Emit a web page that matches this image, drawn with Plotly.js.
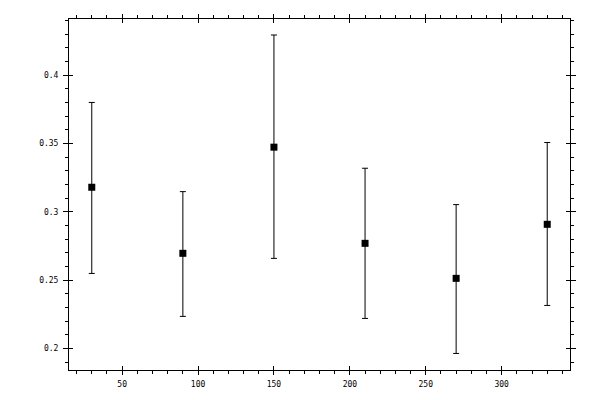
<!DOCTYPE html>
<html>
<head>
<meta charset="utf-8">
<script src="https://cdn.plot.ly/plotly-3.0.1.min.js"></script>
<style>html,body{margin:0;padding:0;background:#fff;}#chart{width:600px;height:400px;}</style>
</head>
<body>
<div id="chart"></div>
<script>
const xValues = [30, 90, 150, 210, 270, 330];
const yValues = [0.318, 0.2697, 0.3473, 0.2770, 0.2514, 0.2909];
const upperValues = [0.380, 0.3148, 0.4293, 0.3319, 0.3053, 0.3507];
const lowerValues = [0.255, 0.2236, 0.2660, 0.2221, 0.1965, 0.2316];

const errPlus = yValues.map((v, i) => upperValues[i] - v);
const errMinus = yValues.map((v, i) => v - lowerValues[i]);

const xRange = [15, 345];
const yRange = [0.1844, 0.441];

const tickFont = {family: 'DejaVu Sans Mono, monospace', size: 8, color: '#000'};

const traces = [
  {
    x: xValues, y: yValues, type: 'scatter', mode: 'markers',
    marker: {symbol: 'square', size: 7, color: '#000'},
    error_y: {type: 'data', symmetric: false, array: errPlus, arrayminus: errMinus,
              color: '#000', thickness: 1, width: 3},
    showlegend: false, hoverinfo: 'skip'
  },
  {
    x: [xRange[0]], y: [yRange[0]], xaxis: 'x2', yaxis: 'y2', type: 'scatter', mode: 'markers',
    marker: {size: 0.1, opacity: 0}, showlegend: false, hoverinfo: 'skip'
  }
];

const layout = {
  width: 600, height: 400,
  margin: {l: 69, r: 30, t: 19, b: 30},
  paper_bgcolor: '#fff', plot_bgcolor: '#fff',
  showlegend: false,
  font: tickFont,
  xaxis: {
    range: xRange, tick0: 0, dtick: 50, showgrid: false, zeroline: false,
    showline: true, linecolor: '#000', linewidth: 1, mirror: 'ticks',
    ticks: 'outside', ticklen: 4, tickwidth: 1, tickcolor: '#000',
    minor: {dtick: 10, tick0: 0, ticks: 'outside', ticklen: 3, tickwidth: 1, tickcolor: '#000', showgrid: false},
    tickfont: tickFont, ticklabelstandoff: 2
  },
  yaxis: {
    range: yRange, tick0: 0, dtick: 0.05, showgrid: false, zeroline: false,
    showline: true, linecolor: '#000', linewidth: 1, mirror: 'ticks',
    ticks: 'outside', ticklen: 5, tickwidth: 1, tickcolor: '#000',
    minor: {dtick: 0.01, tick0: 0, ticks: 'outside', ticklen: 3, tickwidth: 1, tickcolor: '#000', showgrid: false},
    tickfont: tickFont, ticklabelstandoff: 3
  },
  xaxis2: {
    overlaying: 'x', matches: 'x', range: xRange, tick0: 0, dtick: 50, showgrid: false, zeroline: false,
    showline: false, mirror: 'ticks', ticks: 'inside', ticklen: 4, tickwidth: 1, tickcolor: '#000',
    showticklabels: false
  },
  yaxis2: {
    overlaying: 'y', matches: 'y', range: yRange, tick0: 0, dtick: 0.05, showgrid: false, zeroline: false,
    showline: false, mirror: 'ticks', ticks: 'inside', ticklen: 4, tickwidth: 1, tickcolor: '#000',
    showticklabels: false
  }
};

Plotly.newPlot('chart', traces, layout, {displayModeBar: false, staticPlot: true});
</script>
</body>
</html>
